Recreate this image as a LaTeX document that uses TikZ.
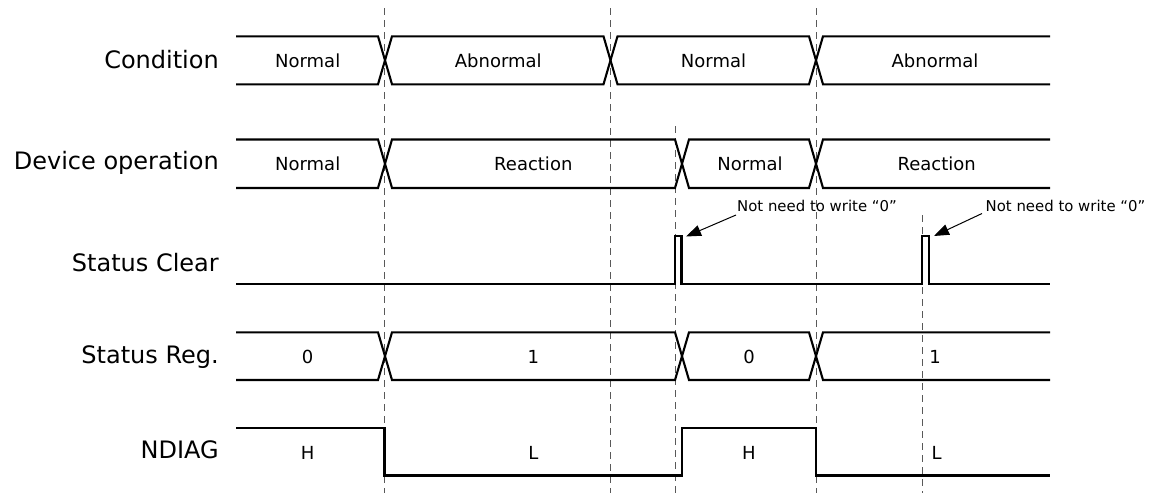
\documentclass[tikz,border=0pt]{standalone}
\usepackage{fontspec}
\setmainfont{DejaVu Sans}
\usetikzlibrary{arrows.meta}
\begin{document}
\begin{tikzpicture}[x=1pt,y=-1pt,
  wave/.style={line width=2.1pt, line join=miter},
  guide/.style={draw=gray!70!black, line width=1pt, dash pattern=on 7pt off 5pt},
  lbl/.style={anchor=east, font=\fontsize{24}{28}\selectfont, inner sep=0pt},
  dat/.style={font=\fontsize{18}{21}\selectfont, inner sep=0pt},
  note/.style={anchor=west, font=\fontsize{14.9}{17}\selectfont, inner sep=0pt},
  callout/.style={line width=1pt, -{Triangle[length=15pt,width=11pt]}}]
\useasboundingbox (0,0) rectangle (1156,493);

% guide lines
\draw[guide] (384.5,8) -- (384.5,493);
\draw[guide] (610.7,8) -- (610.7,493);
\draw[guide] (675,126) -- (675,493);
\draw[guide] (816,8) -- (816,493);
\draw[guide] (922.3,215) -- (922.3,493);

% row labels
\node[lbl] (lcond) at (219,60) {Condition};
\node[lbl] (ldev) at (219,163) {Device operation};
\node[lbl] (lclr) at (219,263) {Status Clear};
\node[lbl] (lreg) at (219,357) {Status Reg.};
\node[lbl] (lnd) at (219,450) {NDIAG};

% Condition bus
\draw[wave] (236,36.3) -- (378,36.3) -- (392,84.3) -- (603.5,84.3) -- (617.5,36.3) -- (809,36.3) -- (823,84.3) -- (1050,84.3);
\draw[wave] (236,84.3) -- (378,84.3) -- (392,36.3) -- (603.5,36.3) -- (617.5,84.3) -- (809,84.3) -- (823,36.3) -- (1050,36.3);
\node[dat] (c1) at (307.7,60.3) {Normal};
\node[dat] (c2) at (498.3,60.3) {Abnormal};
\node[dat] (c3) at (713.5,60.3) {Normal};
\node[dat] (c4) at (935,60.3) {Abnormal};

% Device operation bus
\draw[wave] (236,139.5) -- (378,139.5) -- (392,188) -- (675,188) -- (689,139.5) -- (809,139.5) -- (823,188) -- (1050,188);
\draw[wave] (236,188) -- (378,188) -- (392,139.5) -- (675,139.5) -- (689,188) -- (809,188) -- (823,139.5) -- (1050,139.5);
\node[dat] (d1) at (307.7,164) {Normal};
\node[dat] (d2) at (533.3,164) {Reaction};
\node[dat] (d3) at (750,164) {Normal};
\node[dat] (d4) at (936.7,164) {Reaction};

% Status Clear
\draw[wave] (236,284) -- (675,284) -- (675,235.7) -- (681.5,235.7) -- (681.5,284) -- (922.3,284) -- (922.3,235.7) -- (929,235.7) -- (929,284) -- (1050,284);
\node[note] (n1) at (737,205.5) {Not need to write “0”};
\node[note] (n2) at (985.5,205.5) {Not need to write “0”};
\coordinate (a1s) at (736,215);
\coordinate (a1e) at (686,236.5);
\coordinate (a2s) at (982,213.5);
\coordinate (a2e) at (934,236);
\draw[callout] (a1s) -- (a1e);
\draw[callout] (a2s) -- (a2e);

% Status Reg bus
\draw[wave] (236,332.3) -- (378,332.3) -- (392,380) -- (675,380) -- (689,332.3) -- (809,332.3) -- (823,380) -- (1050,380);
\draw[wave] (236,380) -- (378,380) -- (392,332.3) -- (675,332.3) -- (689,380) -- (809,380) -- (823,332.3) -- (1050,332.3);
\node[dat] (r1) at (307.7,356.5) {0};
\node[dat] (r2) at (533.3,356.5) {1};
\node[dat] (r3) at (749,356.5) {0};
\node[dat] (r4) at (935,356.5) {1};

% NDIAG
\draw[wave] (236,427.7) -- (384.5,427.7) -- (384.5,475.5) -- (681.7,475.5) -- (681.7,427.7) -- (816,427.7) -- (816,475.5) -- (1050,475.5);
\node[dat] (h1) at (307.7,452.7) {H};
\node[dat] (h2) at (533.3,452.7) {L};
\node[dat] (h3) at (749,452.7) {H};
\node[dat] (h4) at (936.7,452.7) {L};
\end{tikzpicture}
\end{document}
